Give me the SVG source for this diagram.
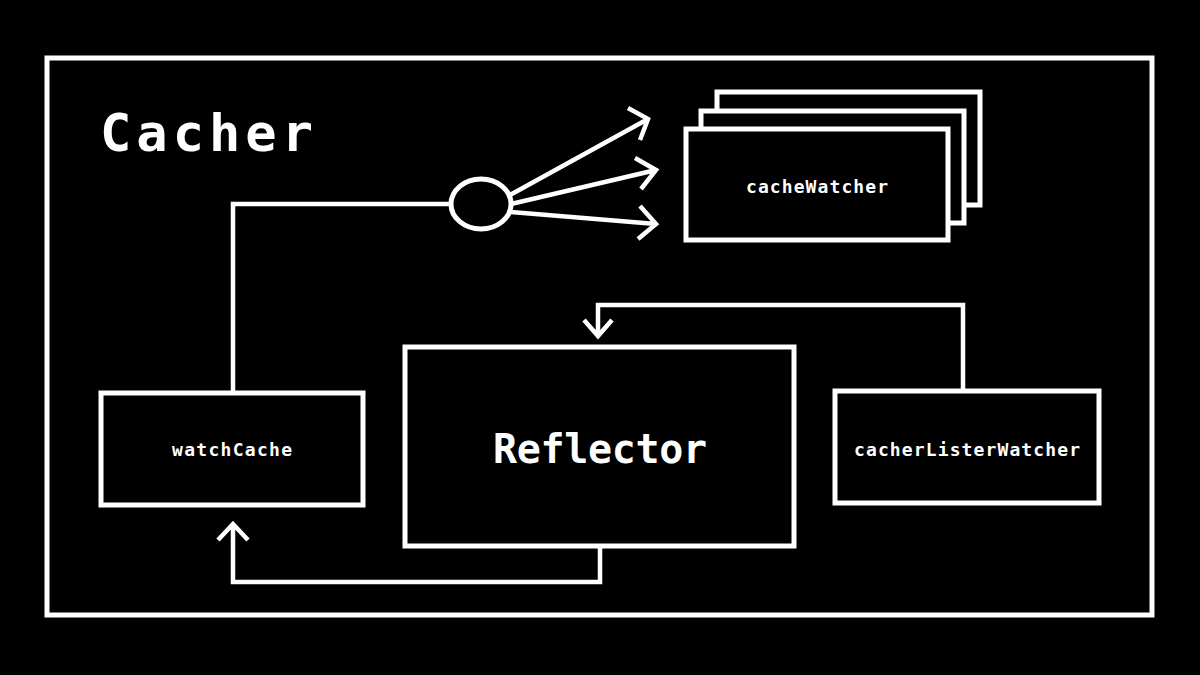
<svg xmlns="http://www.w3.org/2000/svg" width="1200" height="675" viewBox="0 0 1200 675">
<style>
.b{fill:#000;stroke:#fff;stroke-width:5}
.l{fill:none;stroke:#fff;stroke-width:4.5;stroke-linejoin:miter}
.t{fill:#fff;font-family:"DejaVu Sans Mono","Liberation Mono",monospace;font-weight:bold;text-anchor:middle}
</style>
<rect width="1200" height="675" fill="#000"/>
<g id="cacher"><rect class="b" x="47" y="58" width="1105" height="557"/>
<text class="t" x="100" y="151" font-size="52" textLength="213" lengthAdjust="spacing" style="text-anchor:start">Cacher</text></g>
<g id="cacheWatcher">
<rect class="b" x="717" y="92" width="263" height="113"/>
<rect class="b" x="701" y="111" width="263" height="112"/>
<rect class="b" x="686" y="129" width="262" height="111"/>
<text class="t" x="817" y="193" font-size="18" textLength="142" lengthAdjust="spacing">cacheWatcher</text></g>
<g id="watchCache"><rect class="b" x="101" y="393" width="262" height="112"/>
<text class="t" x="232" y="456" font-size="18" textLength="120" lengthAdjust="spacing">watchCache</text></g>
<g id="reflector"><rect class="b" x="405" y="347" width="389" height="199"/>
<text class="t" x="600" y="463" font-size="40" textLength="214" lengthAdjust="spacing">Reflector</text></g>
<g id="cacherListerWatcher"><rect class="b" x="835" y="391" width="264" height="112"/>
<text class="t" x="967" y="456" font-size="18" textLength="226" lengthAdjust="spacing">cacherListerWatcher</text></g>
<g id="connectors">
<path class="l" d="M233 391V204H451"/>
<ellipse class="b" cx="481" cy="204" rx="30" ry="25"/>
<path class="l" d="M510 195L648 119M628 108L648 119L640 140"/>
<path class="l" d="M511 204L656 170M635 158L656 170L641 189"/>
<path class="l" d="M511 212L656 224M640 206L656 224L638 239"/>
<path class="l" d="M963 391V305H598V336M584 320L598 336L612 320"/>
<path class="l" d="M600 546V582H233V524M218 540L233 524L248 540"/>
</g>
</svg>
